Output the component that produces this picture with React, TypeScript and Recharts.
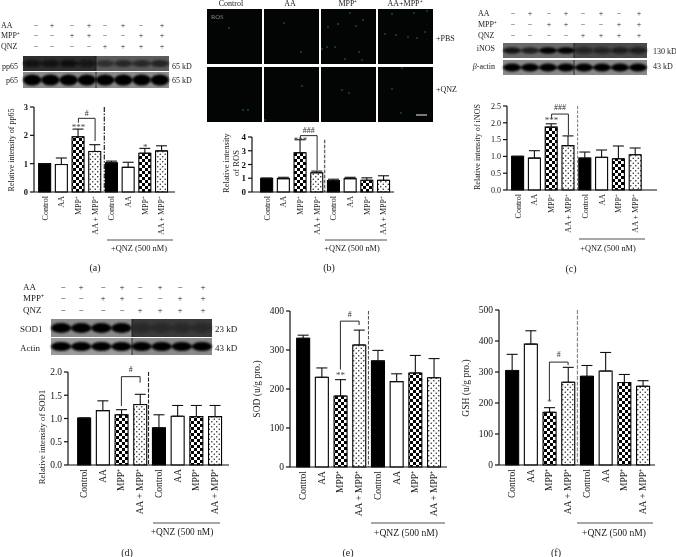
import React from "react";
import { BarChart, Bar, Cell, XAxis, YAxis, ErrorBar, ReferenceLine, ReferenceDot } from "recharts";

const FONT = "'Liberation Serif', serif";
const categories = ["Control", "AA", "MPP⁺", "AA + MPP⁺", "Control", "AA", "MPP⁺", "AA + MPP⁺"];

const valuesA = [1, 0.97, 1.95, 1.43, 1.03, 0.87, 1.37, 1.45];
const errorsA = [0, 0.23, 0.27, 0.24, 0.06, 0.18, 0.17, 0.18];
const valuesB = [1, 0.97, 2.85, 1.4, 0.83, 0.97, 0.85, 0.85];
const errorsB = [0, 0.1, 0.95, 0.12, 0.1, 0.1, 0.18, 0.33];
const valuesC = [1, 0.95, 1.87, 1.32, 0.95, 0.97, 0.93, 1.05];
const errorsC = [0, 0.22, 0.1, 0.29, 0.18, 0.22, 0.38, 0.2];
const valuesD = [1.01, 1.17, 1.08, 1.3, 0.8, 1.05, 1.04, 1.04];
const errorsD = [0, 0.21, 0.11, 0.22, 0.28, 0.23, 0.24, 0.24];
const valuesE = [330, 230, 182, 313, 272, 219, 241, 229];
const errorsE = [8, 24, 42, 38, 27, 20, 45, 49];
const valuesF = [305, 390, 170, 267, 286, 303, 266, 254];
const errorsF = [52, 43, 15, 48, 35, 60, 26, 18];

const ticksA = [0, 1, 2, 3];
const ticksB = [0, 1, 2, 3, 4];
const ticksC = [0, 0.5, 1, 1.5, 2, 2.5];
const ticksD = [0, 0.5, 1, 1.5, 2];
const ticksE = [0, 100, 200, 300, 400];
const ticksF = [0, 100, 200, 300, 400, 500];

type PanelProps = {
  id: string; values: number[]; errors: number[]; ticks: number[]; decimals: number;
  axisX: number; right: number; yTop: number; y0: number; first: number; step: number;
  barW: number; tickFont: number; catFont: number; bold?: boolean;
  bracketY: number; leftLeg: number; rightLeg: number; hash: string; hashY: number;
  star: string; starY: number; dashX: number; dashTop: number; dashColor: string; dashPattern: string; dashW: number;
  extraStarY?: number;
};

function fillFor(i: number, id: string) {
  const k = i % 4;
  if (k === 0) return "#000";
  if (k === 1) return "#fff";
  if (k === 2) return `url(#check-${id})`;
  return `url(#dots-${id})`;
}

function Panel(p: PanelProps) {
  const data = categories.map((name, i) => ({ pos: i + 1, name, value: p.values[i], err: [0, p.errors[i]] }));
  const lo = 1 - (p.first - p.axisX) / p.step;
  const hi = 8 + (p.right - (p.first + 7 * p.step)) / p.step;
  const yW = 30, topM = 14, xH = 60;
  const max = p.ticks[p.ticks.length - 1];
  const note = (txt: string, size: number, color: string) => (props: any) => (
    <text x={props.cx} y={props.cy} textAnchor="middle" dominantBaseline="central" fontFamily={FONT} fontSize={size} fill={color}>{txt}</text>
  );
  return (
    <div style={{ position: "absolute", left: p.axisX - yW, top: p.yTop - topM }}>
      <BarChart width={p.right - p.axisX + yW + 3} height={p.y0 - p.yTop + topM + xH} data={data} barSize={p.barW}
        margin={{ top: topM, right: 3, left: 0, bottom: 0 }}>
        <defs>
          <pattern id={`check-${p.id}`} width="6" height="6" patternUnits="userSpaceOnUse">
            <rect width="6" height="6" fill="#fff" />
            <rect width="3" height="3" fill="#000" />
            <rect x="3" y="3" width="3" height="3" fill="#000" />
          </pattern>
          <pattern id={`dots-${p.id}`} width="5" height="5" patternUnits="userSpaceOnUse">
            <rect width="5" height="5" fill="#fff" />
            <circle cx="1.25" cy="1.25" r="0.75" fill="#222" />
            <circle cx="3.75" cy="3.75" r="0.75" fill="#222" />
          </pattern>
        </defs>
        <XAxis type="number" dataKey="pos" domain={[lo, hi]} ticks={[1, 2, 3, 4, 5, 6, 7, 8]} allowDataOverflow interval={0}
          height={xH} axisLine={{ stroke: "#111", strokeWidth: 1.2 }} tickLine={false}
          tick={(t: any) => (
            <text x={t.x} y={p.y0 - (p.yTop - topM) + 4} textAnchor="end" dominantBaseline="central"
              transform={`rotate(-90 ${t.x} ${p.y0 - (p.yTop - topM) + 4})`} fontFamily={FONT} fontSize={p.catFont} fill="#1a1a1a">
              {categories[t.payload.value - 1]}
            </text>
          )} />
        <YAxis type="number" domain={[0, max]} ticks={p.ticks} width={yW} interval={0} tickSize={4}
          axisLine={{ stroke: "#111", strokeWidth: 1.2 }} tickLine={{ stroke: "#111", strokeWidth: 1.2 }}
          tickFormatter={(v: number) => v.toFixed(p.decimals)}
          tick={{ fontFamily: FONT, fontSize: p.tickFont, fill: "#111", fontWeight: p.bold ? 700 : 400 }} />
        <Bar dataKey="value" isAnimationActive={false} stroke="#000" strokeWidth={1.1}>
          {data.map((_, i) => <Cell key={i} fill={fillFor(i, p.id)} />)}
          <ErrorBar dataKey="err" direction="y" width={5.5} stroke="#111" strokeWidth={1.1} isAnimationActive={false} />
        </Bar>
        <ReferenceLine ifOverflow="visible" segment={[{ x: p.dashX, y: p.dashTop }, { x: p.dashX, y: 0 }]}
          stroke={p.dashColor} strokeWidth={p.dashW} strokeDasharray={p.dashPattern} />
        <ReferenceLine ifOverflow="visible" segment={[{ x: 3, y: p.bracketY }, { x: 4, y: p.bracketY }]} stroke="#111" strokeWidth={0.9} />
        <ReferenceLine ifOverflow="visible" segment={[{ x: 3, y: p.bracketY }, { x: 3, y: p.leftLeg }]} stroke="#111" strokeWidth={0.9} />
        <ReferenceLine ifOverflow="visible" segment={[{ x: 4, y: p.bracketY }, { x: 4, y: p.rightLeg }]} stroke="#111" strokeWidth={0.9} />
        <ReferenceDot ifOverflow="visible" x={3.5} y={p.hashY} r={0} shape={note(p.hash, 8, "#333")} />
        <ReferenceDot ifOverflow="visible" x={3} y={p.starY} r={0} shape={note(p.star, 9, "#444")} />
        {p.extraStarY !== undefined && (
          <ReferenceDot ifOverflow="visible" x={7} y={p.extraStarY} r={0} shape={note("*", 9, "#444")} />
        )}
      </BarChart>
    </div>
  );
}

const T = (props: any) => <text fontFamily={FONT} fill="#1a1a1a" {...props} />;

function VLabel({ x, y, size, children }: any) {
  return <T x={x} y={y} fontSize={size} textAnchor="middle" dominantBaseline="central" transform={`rotate(-90 ${x} ${y})`}>{children}</T>;
}

function Marks({ xs, rows, labelX, ys, size }: any) {
  const names = ["AA", "MPP⁺", "QNZ"];
  return <>
    {names.map((n, r) => (
      <g key={n}>
        <T x={labelX} y={ys[r]} fontSize={size} dominantBaseline="central">{n}</T>
        {xs.map((x: number, i: number) => (
          <T key={i} x={x} y={ys[r]} fontSize={size} textAnchor="middle" dominantBaseline="central">{rows[r][i] ? "+" : "−"}</T>
        ))}
      </g>
    ))}
  </>;
}

function Blot({ x, y, w, h, split, bgL, bgR, bandL, bandR, ry, lanes }: any) {
  const lw = w / 8;
  return <g>
    <rect x={x} y={y} width={split - x} height={h} fill={bgL} />
    <rect x={split} y={y} width={x + w - split} height={h} fill={bgR} />
    <g filter="url(#soft)">
      {lanes.map((d: number, i: number) => {
        const cx = x + lw * (i + 0.5);
        return <ellipse key={i} cx={cx} cy={y + h / 2} rx={lw * 0.5} ry={ry} fill={i < 4 ? bandL : bandR} opacity={d} />;
      })}
    </g>
    <line x1={split} x2={split} y1={y} y2={y + h} stroke="#111" strokeWidth={0.8} />
  </g>;
}

const rowsMark = [
  [0, 1, 0, 1, 0, 1, 0, 1],
  [0, 0, 1, 1, 0, 0, 1, 1],
  [0, 0, 0, 0, 1, 1, 1, 1],
];

const tiles = [[207, 9], [264, 9], [321, 9], [378, 9], [207, 67], [264, 67], [321, 67], [378, 67]];
const greens = [
  [229, 28], [284, 23], [301, 52], [328, 27], [338, 24], [350, 13], [356, 26], [327, 47], [335, 47], [322, 49],
  [359, 52], [345, 59], [362, 60], [363, 20], [385, 34], [396, 35], [408, 37], [417, 38], [425, 32], [427, 11],
  [414, 13], [392, 14], [243, 110], [248, 110], [302, 86], [265, 120], [349, 93], [342, 90], [402, 68], [392, 89], [401, 113],
];

function Decor() {
  return (
    <svg width={676} height={557} style={{ position: "absolute", left: 0, top: 0 }}>
      <defs>
        <filter id="soft" x="-20%" y="-50%" width="140%" height="200%"><feGaussianBlur stdDeviation="1.1" /></filter>
      </defs>

      {/* (a) */}
      <Marks xs={[36, 52, 72, 89, 105, 123, 141, 162]} rows={rowsMark} labelX={1} ys={[25, 35, 46]} size={8} />
      <Blot x={23} y={56} w={146} h={15} split={96} bgL="#2e2e2e" bgR="#5c5c5c" bandL="#0a0a0a" bandR="#1c1c1c" ry={3.5} lanes={[0.9, 0.9, 1, 0.8, 0.7, 0.8, 0.8, 0.9]} />
      <Blot x={23} y={72} w={146} h={16} split={96} bgL="#8b8b8b" bgR="#8b8b8b" bandL="#000" bandR="#000" ry={5.5} lanes={[1, 1, 1, 1, 1, 1, 1, 1]} />
      <T x={18} y={66} fontSize={8} textAnchor="end" dominantBaseline="central">pp65</T>
      <T x={18} y={80} fontSize={8} textAnchor="end" dominantBaseline="central">p65</T>
      <T x={172} y={66} fontSize={8} dominantBaseline="central">65 kD</T>
      <T x={172} y={80} fontSize={8} dominantBaseline="central">65 kD</T>
      <VLabel x={11} y={150} size={8}>Relative intensity of pp65</VLabel>
      <line x1={107} x2={173} y1={240} y2={240} stroke="#222" strokeWidth={0.8} />
      <T x={139} y={248} fontSize={8.4} textAnchor="middle" dominantBaseline="central">+QNZ (500 nM)</T>
      <T x={95} y={267} fontSize={10} textAnchor="middle" dominantBaseline="central">(a)</T>

      {/* (b) */}
      {["Control", "AA", "MPP⁺", "AA+MPP⁺"].map((s, i) => (
        <T key={s} x={[231, 290, 348, 405][i]} y={3} fontSize={8} textAnchor="middle" dominantBaseline="central">{s}</T>
      ))}
      {tiles.map(([x, y], i) => <rect key={i} x={x} y={y} width={55} height={55} fill="#020503" />)}
      {greens.map(([x, y], i) => <circle key={i} cx={x} cy={y} r={0.7} fill="#2f9a47" />)}
      <T x={211} y={16} fontSize={6.5} fill="#8a8a8a" dominantBaseline="central">ROS</T>
      <line x1={416} x2={427} y1={115} y2={115} stroke="#eee" strokeWidth={1} />
      <T x={436} y={38} fontSize={8} dominantBaseline="central">+PBS</T>
      <T x={436} y={89} fontSize={8} dominantBaseline="central">+QNZ</T>
      <VLabel x={226} y={163} size={8.5}>Relative intensity</VLabel>
      <VLabel x={236} y={163} size={8.5}>of ROS</VLabel>
      <line x1={325} x2={387} y1={240} y2={240} stroke="#222" strokeWidth={0.8} />
      <T x={352} y={248} fontSize={8.3} textAnchor="middle" dominantBaseline="central">+QNZ (500 nM)</T>
      <T x={329} y={267} fontSize={10} textAnchor="middle" dominantBaseline="central">(b)</T>

      {/* (c) */}
      <Marks xs={[513, 530, 549, 566, 583, 601, 619, 639]} rows={rowsMark} labelX={478} ys={[13, 24, 35]} size={8} />
      <Blot x={503} y={43} w={144} h={15} split={574} bgL="#6a6a6a" bgR="#4a4a4a" bandL="#050505" bandR="#151515" ry={3.2} lanes={[0.8, 0.7, 1, 1, 0.8, 0.8, 0.9, 0.9]} />
      <Blot x={503} y={60} w={144} h={15} split={574} bgL="#8a8a8a" bgR="#8a8a8a" bandL="#050505" bandR="#050505" ry={4} lanes={[1, 1, 1, 1, 1, 1, 1, 1]} />
      <T x={495} y={48} fontSize={8} textAnchor="end" dominantBaseline="central">iNOS</T>
      <T x={495} y={66} fontSize={8} textAnchor="end" dominantBaseline="central"><tspan fontStyle="italic">β</tspan>-actin</T>
      <T x={653} y={51} fontSize={8} dominantBaseline="central">130 kD</T>
      <T x={653} y={66} fontSize={8} dominantBaseline="central">43 kD</T>
      <VLabel x={477} y={147} size={8.1}>Relative intensity of iNOS</VLabel>
      <line x1={579} x2={645} y1={239} y2={239} stroke="#222" strokeWidth={0.8} />
      <T x={608} y={248} fontSize={8.3} textAnchor="middle" dominantBaseline="central">+QNZ (500 nM)</T>
      <T x={571} y={268} fontSize={10} textAnchor="middle" dominantBaseline="central">(c)</T>

      {/* (d) */}
      <Marks xs={[63, 81, 103, 122, 140, 160, 180, 203]} rows={rowsMark} labelX={23} ys={[287, 298, 310]} size={9} />
      <Blot x={51} y={319} w={161} h={18} split={132} bgL="#8a8a8a" bgR="#3a3a3a" bandL="#050505" bandR="#1c1c1c" ry={5} lanes={[1, 1, 1, 1, 0.6, 0.6, 0.6, 0.6]} />
      <Blot x={51} y={338} w={161} h={17} split={132} bgL="#9a9a9a" bgR="#8a8a8a" bandL="#050505" bandR="#000" ry={4.5} lanes={[1, 1, 1, 1, 1, 1, 1, 1]} />
      <T x={20} y={329} fontSize={9} dominantBaseline="central">SOD1</T>
      <T x={20} y={348} fontSize={9} dominantBaseline="central">Actin</T>
      <T x={215} y={329} fontSize={9} dominantBaseline="central">23 kD</T>
      <T x={215} y={348} fontSize={9} dominantBaseline="central">43 kD</T>
      <VLabel x={42} y={437} size={8.7}>Relative intensity of SOD1</VLabel>
      <line x1={153} x2={220} y1={523} y2={523} stroke="#222" strokeWidth={0.8} />
      <T x={182} y={532} fontSize={9.4} textAnchor="middle" dominantBaseline="central">+QNZ (500 nM)</T>
      <T x={127} y={552} fontSize={10} textAnchor="middle" dominantBaseline="central">(d)</T>

      {/* (e) */}
      <VLabel x={257} y={389} size={9.5}>SOD (u/g pro.)</VLabel>
      <line x1={371} x2={445} y1={523} y2={523} stroke="#222" strokeWidth={0.8} />
      <T x={406} y={532} fontSize={9.6} textAnchor="middle" dominantBaseline="central">+QNZ (500 nM)</T>
      <T x={348} y={552} fontSize={10} textAnchor="middle" dominantBaseline="central">(e)</T>

      {/* (f) */}
      <VLabel x={466} y={388} size={9.5}>GSH (u/g pro.)</VLabel>
      <line x1={577} x2={653} y1={523} y2={523} stroke="#222" strokeWidth={0.8} />
      <T x={614} y={532} fontSize={9.6} textAnchor="middle" dominantBaseline="central">+QNZ (500 nM)</T>
      <T x={556} y={552} fontSize={10} textAnchor="middle" dominantBaseline="central">(f)</T>
    </svg>
  );
}

export default function App() {
  return (
    <div style={{ position: "absolute", left: 0, top: 0, width: 676, height: 557, overflow: "hidden", background: "#fff", filter: "blur(0.4px)" }}>
      <Decor />
      <Panel id="a" values={valuesA} errors={errorsA} ticks={ticksA} decimals={0} axisX={34} right={175} yTop={107} y0={192} first={45} step={16.7}
        barW={12} tickFont={8.5} catFont={8} bold bracketY={2.6} leftLeg={2.45} rightLeg={1.8} hash="#" hashY={2.76} star="***" starY={2.3} extraStarY={1.59}
        dashX={4.55} dashTop={3} dashColor="#111" dashPattern="5 1.5 1.5 1.5" dashW={1.1} />
      <Panel id="b" values={valuesB} errors={errorsB} ticks={ticksB} decimals={0} axisX={252} right={394} yTop={137} y0={192} first={267} step={16.7}
        barW={12} tickFont={9} catFont={8} bold bracketY={4.1} leftLeg={3.8} rightLeg={1.6} hash="###" hashY={4.45} star="***" starY={3.8}
        dashX={4.45} dashTop={3.8} dashColor="#666" dashPattern="3.5 1.5" dashW={1.4} />
      <Panel id="c" values={valuesC} errors={errorsC} ticks={ticksC} decimals={1} axisX={507} right={657} yTop={106} y0={190} first={518} step={16.8}
        barW={12} tickFont={8} catFont={8} bracketY={2.26} leftLeg={2.13} rightLeg={1.63} hash="###" hashY={2.45} star="***" starY={2.07}
        dashX={4.55} dashTop={2.5} dashColor="#777" dashPattern="3 1.5" dashW={1} />
      <Panel id="d" values={valuesD} errors={errorsD} ticks={ticksD} decimals={1} axisX={68} right={229} yTop={372} y0={465} first={84} step={18.7}
        barW={13} tickFont={9.5} catFont={9.5} bracketY={1.9} leftLeg={1.27} rightLeg={1.77} hash="#" hashY={2.06} star="" starY={1.2}
        dashX={4.45} dashTop={2} dashColor="#222" dashPattern="4 1.5" dashW={1.1} />
      <Panel id="e" values={valuesE} errors={errorsE} ticks={ticksE} decimals={0} axisX={290} right={447} yTop={311} y0={467} first={303} step={18.7}
        barW={13} tickFont={9.5} catFont={9.5} bracketY={374} leftLeg={250} rightLeg={364} hash="#" hashY={392} star="**" starY={236}
        dashX={4.5} dashTop={400} dashColor="#333" dashPattern="3.5 1.5" dashW={0.9} />
      <Panel id="f" values={valuesF} errors={errorsF} ticks={ticksF} decimals={0} axisX={499} right={655} yTop={310} y0={465} first={512} step={18.7}
        barW={13} tickFont={9.5} catFont={9.5} bracketY={332} leftLeg={210} rightLeg={322} hash="#" hashY={357} star="*" starY={203}
        dashX={4.5} dashTop={500} dashColor="#888" dashPattern="4 1.5" dashW={1.2} />
    </div>
  );
}
